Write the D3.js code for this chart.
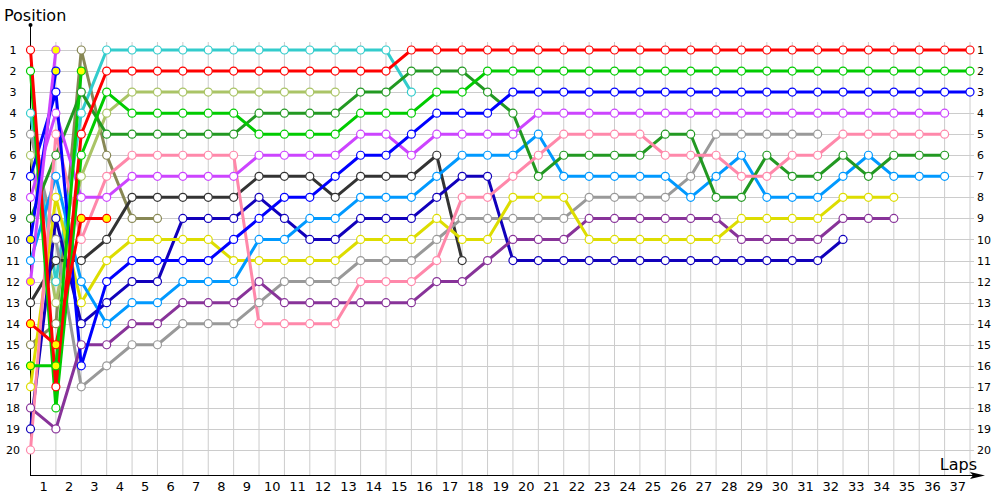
<!DOCTYPE html>
<html>
<head>
<meta charset="utf-8">
<script src="https://cdn.jsdelivr.net/npm/d3@7"></script>
<style>
  body { margin: 0; background: #fff; }
  text { font-family: Tahoma, "DejaVu Sans", sans-serif; }
</style>
</head>
<body>
<svg width="1000" height="500"></svg>
<script>
// laps 0..37, positions 1..20
var laps = d3.range(0, 38);
var positions = d3.range(1, 21);

// position per lap (index = lap), array stops when the driver retires
var red      = [1,17,5,2,2,2,2,2,2,2,2,2,2,2,2,1,1,1,1,1,1,1,1,1,1,1,1,1,1,1,1,1,1,1,1,1,1,1];
var green    = [2,18,6,3,4,4,4,4,4,5,5,5,5,4,4,4,3,3,2,2,2,2,2,2,2,2,2,2,2,2,2,2,2,2,2,2,2,2];
var blue     = [7,3,16,12,11,11,11,11,10,9,8,8,7,6,6,5,4,4,4,3,3,3,3,3,3,3,3,3,3,3,3,3,3,3,3,3,3,3];
var magenta  = [8,4,8,8,7,7,7,7,7,6,6,6,6,5,5,6,5,5,5,5,4,4,4,4,4,4,4,4,4,4,4,4,4,4,4,4,4];
var pink     = [20,5,10,7,6,6,6,6,6,14,14,14,14,12,12,12,11,8,8,7,6,5,5,5,5,6,6,6,7,7,6,6,5,5,5,5,5];
var dkgreen  = [9,6,3,5,5,5,5,5,5,4,4,4,4,3,3,2,2,2,3,4,7,6,6,6,6,5,5,8,8,6,7,7,6,7,6,6,6];
var ltblue   = [11,7,12,14,13,13,12,12,12,10,10,9,9,8,8,8,7,6,6,6,5,7,7,7,7,7,8,7,6,8,8,8,7,6,7,7,7];
var yellow   = [17,8,13,11,10,10,10,10,11,11,11,11,11,10,10,10,9,10,10,8,8,8,10,10,10,10,10,10,9,9,9,9,8,8,8];
var dkpurple = [18,19,15,15,14,14,13,13,13,12,13,13,13,13,13,13,12,12,11,10,10,10,9,9,9,9,9,9,10,10,10,10,9,9,9];
var navy     = [19,9,14,13,12,12,9,9,9,8,9,10,10,9,9,9,8,7,7,11,11,11,11,11,11,11,11,11,11,11,11,11,10];
var gray     = [5,10,17,16,15,15,14,14,14,13,12,12,12,11,11,11,10,9,9,9,9,9,8,8,8,8,7,5,5,5,5,5];
var dkgray   = [13,11,11,10,8,8,8,8,8,7,7,7,8,7,7,7,6,11];
var cyan     = [4,12,4,1,1,1,1,1,1,1,1,1,1,1,1,3];
var ltolive  = [6,13,7,4,3,3,3,3,3,3,3,3,3];
var olive    = [15,14,1,6,9,9];
var redY     = [14,15,9,9];
var greenY   = [16,16,2];
var blueY    = [10,2];
var magY     = [12,1];

var drivers = [
  { pos: olive,    color: "#888855", fill: "#fff" },
  { pos: ltolive,  color: "#aac466", fill: "#fff" },
  { pos: cyan,     color: "#33cccc", fill: "#fff" },
  { pos: dkgray,   color: "#333333", fill: "#fff" },
  { pos: gray,     color: "#999999", fill: "#fff" },
  { pos: navy,     color: "#1100bb", fill: "#fff" },
  { pos: dkpurple, color: "#883399", fill: "#fff" },
  { pos: yellow,   color: "#dddd00", fill: "#fff" },
  { pos: ltblue,   color: "#0099ff", fill: "#fff" },
  { pos: dkgreen,  color: "#229922", fill: "#fff" },
  { pos: pink,     color: "#ff88aa", fill: "#fff" },
  { pos: magenta,  color: "#cc44ff", fill: "#fff" },
  { pos: blue,     color: "#0000ff", fill: "#fff" },
  { pos: green,    color: "#00cc00", fill: "#fff" },
  { pos: red,      color: "#ff0000", fill: "#fff" },
  { pos: redY,     color: "#ff0000", fill: "#ffff00" },
  { pos: greenY,   color: "#00cc00", fill: "#ffff00" },
  { pos: blueY,    color: "#0000ff", fill: "#ffff00" },
  { pos: magY,     color: "#cc44ff", fill: "#ffff00" }
];

var svg = d3.select("svg");

var xScale = d3.scaleLinear().domain([0, 37]).range([30.5, 970]);
var yScale = d3.scaleLinear().domain([1, 20]).range([50, 450]);
// labels sit between two lap gridlines
var xLabel = d3.scaleLinear().domain([0.5, 37.5]).range([30.5, 970]);

// grid
var grid = svg.append("g");
grid.selectAll("line.v").data(laps.slice(1)).enter().append("line")
  .attr("x1", function (d) { return xScale(d); })
  .attr("x2", function (d) { return xScale(d); })
  .attr("y1", 42).attr("y2", 475)
  .attr("stroke", "#cccccc").attr("stroke-width", 1);
grid.selectAll("line.h").data(positions).enter().append("line")
  .attr("x1", 30.5).attr("x2", 974)
  .attr("y1", function (d) { return Math.round(yScale(d)) + 0.5; })
  .attr("y2", function (d) { return Math.round(yScale(d)) + 0.5; })
  .attr("stroke", "#cccccc").attr("stroke-width", 1);

// axes with labels
svg.append("g")
  .attr("transform", "translate(0,476)")
  .call(d3.axisBottom(xLabel).tickValues(d3.range(1, 38)).tickSize(0).tickPadding(6))
  .call(function (g) { g.select(".domain").remove(); })
  .selectAll("text").attr("font-size", 13).attr("fill", "#000")
  .style("font-family", "Tahoma, 'DejaVu Sans', sans-serif");

svg.append("g")
  .attr("transform", "translate(22,0)")
  .call(d3.axisLeft(yScale).tickValues(positions).tickSize(0).tickPadding(0))
  .call(function (g) { g.select(".domain").remove(); })
  .selectAll("text").attr("font-size", 11).attr("fill", "#000").attr("text-anchor", "middle")
  .attr("x", -9)
  .style("font-family", "Tahoma, 'DejaVu Sans', sans-serif");

svg.append("g")
  .attr("transform", "translate(977,0)")
  .call(d3.axisRight(yScale).tickValues(positions).tickSize(0).tickPadding(0))
  .call(function (g) { g.select(".domain").remove(); })
  .selectAll("text").attr("font-size", 11).attr("fill", "#000")
  .style("font-family", "Tahoma, 'DejaVu Sans', sans-serif");

// axis lines
svg.append("line").attr("x1", 30.5).attr("x2", 30.5).attr("y1", 25).attr("y2", 475.5)
  .attr("stroke", "#000").attr("stroke-width", 1);
svg.append("circle").attr("cx", 30.5).attr("cy", 25).attr("r", 2).attr("fill", "#000");
svg.append("line").attr("x1", 30).attr("x2", 978).attr("y1", 475.5).attr("y2", 475.5)
  .attr("stroke", "#000").attr("stroke-width", 1);
svg.append("path").attr("d", "M985,475.5 L970,472 L973,475.5 L970,479 Z").attr("fill", "#000");

svg.append("text").attr("x", 4).attr("y", 21).attr("font-size", 16).text("Position");
svg.append("text").attr("x", 977).attr("y", 470).attr("font-size", 16)
  .attr("text-anchor", "end").text("Laps");

// lines
var line = d3.line()
  .x(function (d, i) { return xScale(i); })
  .y(function (d) { return yScale(d); });

var g = svg.append("g").attr("id", "container");

g.selectAll("path.driver").data(drivers).enter().append("path")
  .attr("class", "driver")
  .attr("d", function (d) { return line(d.pos); })
  .attr("fill", "none")
  .attr("stroke", function (d) { return d.color; })
  .attr("stroke-width", 3)
  .attr("stroke-linejoin", "round");

drivers.forEach(function (drv) {
  g.selectAll(null).data(drv.pos).enter().append("circle")
    .attr("cx", function (d, i) { return xScale(i); })
    .attr("cy", function (d) { return yScale(d); })
    .attr("r", 4)
    .attr("fill", drv.fill)
    .attr("stroke", drv.color)
    .attr("stroke-width", 1.2);
});
</script>
</body>
</html>
